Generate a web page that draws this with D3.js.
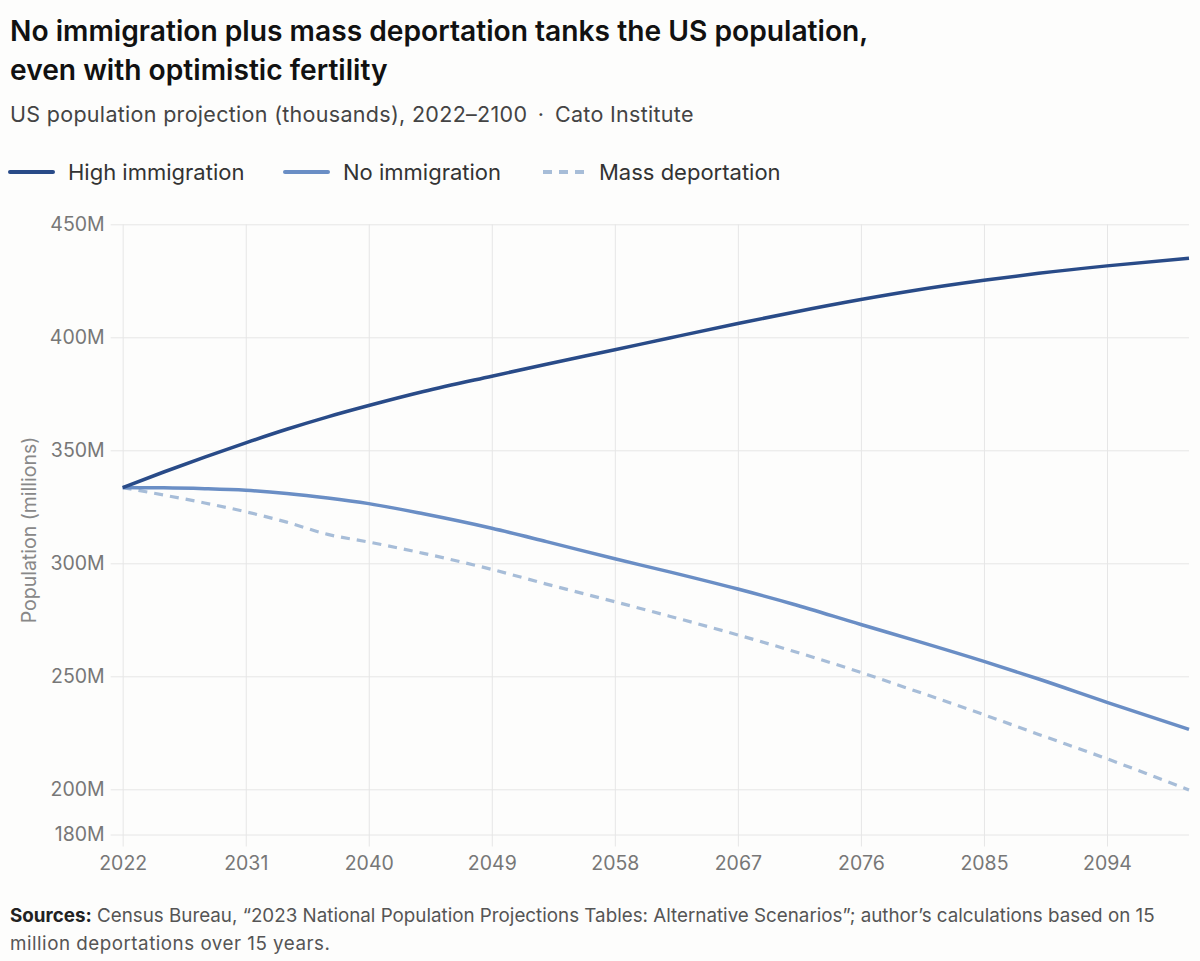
<!DOCTYPE html>
<html>
<head>
<meta charset="utf-8">
<script src="https://cdn.jsdelivr.net/npm/d3@7"></script>
<style>
  html, body { margin: 0; padding: 0; background: #fdfdfc; }
  svg { display: block; }
  text { font-family: Inter, "Noto Sans", sans-serif; }
</style>
</head>
<body>
<svg id="chart" width="1200" height="961"></svg>
<script>
// ---- Data (millions) ----
const years = [2022, 2025, 2028, 2031, 2034, 2037, 2040, 2044, 2049, 2053, 2058, 2062, 2067, 2071, 2076, 2080, 2085, 2089, 2094, 2100];
const highImmigration = [333.5, 340.4, 347.0, 353.3, 359.3, 364.8, 369.8, 376.0, 382.8, 388.1, 394.5, 399.7, 406.1, 411.0, 416.7, 420.8, 425.2, 428.3, 431.6, 435.0];
const noImmigration   = [333.5, 333.4, 333.0, 332.3, 330.9, 328.9, 326.4, 321.9, 315.5, 309.6, 302.0, 296.2, 288.6, 282.0, 272.9, 265.8, 256.6, 248.8, 238.5, 226.5];
const massDeportation = [333.5, 330.2, 326.7, 322.8, 318.2, 312.8, 309.4, 304.4, 297.3, 290.8, 283.0, 276.6, 268.3, 261.2, 251.7, 243.5, 233.0, 224.3, 213.5, 199.7];
const seriesNames = ["High immigration", "No immigration", "Mass deportation"];
const xTicks = [2022, 2031, 2040, 2049, 2058, 2067, 2076, 2085, 2094];
const yTicks = [180, 200, 250, 300, 350, 400, 450];
const titleLines = ["No immigration plus mass deportation tanks the US population,", "even with optimistic fertility"];
const subtitle = "US population projection (thousands), 2022\u20132100 \u2009\u00b7\u2009 Cato Institute";
const yLabel = "Population (millions)";
const sourceBold = "Sources:";
const sourceLines = [" Census Bureau, \u201c2023 National Population Projections Tables: Alternative Scenarios\u201d; author\u2019s calculations based on 15", "million deportations over 15 years."];

// ---- Layout ----
const svg = d3.select("#chart");
const mLeft = 122.7, mRight = 1189, mTop = 224.3, mBottom = 834.5;
const colors = ["#294b88", "#6a8ec5", "#a7bdd8"];
const widths = [3.5, 3.5, 3.2];
const dashes = [null, null, "9,7"];

const x = d3.scaleLinear().domain([2022, 2100]).range([mLeft, mRight]);
const y = d3.scaleLinear().domain([180, 450]).range([mBottom, mTop]);

// Title
svg.append("g").selectAll("text").data(titleLines).join("text")
  .attr("x", 10).attr("y", (d, i) => 41 + i * 39)
  .attr("font-size", 28.2).attr("font-weight", 600).attr("fill", "#111")
  .text(d => d);

svg.append("text").attr("x", 10).attr("y", 122)
  .attr("font-size", 21.5).attr("letter-spacing", 0.3).attr("fill", "#444").text(subtitle);

// Legend
const legendX = [10, 285, 543];
const lg = svg.append("g").selectAll("g").data(seriesNames).join("g")
  .attr("transform", (d, i) => `translate(${legendX[i]},172)`);
lg.append("line").attr("x1", 0).attr("x2", (d, i) => i === 2 ? 41 : 43).attr("y1", 0).attr("y2", 0)
  .attr("stroke", (d, i) => colors[i]).attr("stroke-width", 4)
  .attr("stroke-dasharray", (d, i) => i === 2 ? "9,7" : null)
  .attr("stroke-linecap", (d, i) => i === 2 ? "butt" : "round");
lg.append("text").attr("x", (d, i) => i === 2 ? 56 : 58).attr("y", 7.5)
  .attr("font-size", 22).attr("fill", "#333").text(d => d);

// Y axis + grid
const yAxis = d3.axisLeft(y).tickValues(yTicks).tickFormat(d => d + "M")
  .tickSize(-(mRight - (mLeft - 12))).tickPadding(6);
const gy = svg.append("g").attr("transform", `translate(${mLeft - 12},0)`).call(yAxis);
gy.select(".domain").remove();
gy.selectAll(".tick line").attr("stroke", "#e6e6e6").attr("stroke-width", 1);
gy.selectAll(".tick text").attr("font-size", 19.5).attr("fill", "#777").attr("font-family", "Inter, sans-serif");

// X axis + grid
const xAxis = d3.axisBottom(x).tickValues(xTicks).tickFormat(d3.format("d"))
  .tickSize(-((mBottom + 12) - mTop)).tickPadding(10);
const gx = svg.append("g").attr("transform", `translate(0,${mBottom + 12})`).call(xAxis);
gx.select(".domain").remove();
gx.selectAll(".tick line").attr("stroke", "#e6e6e6").attr("stroke-width", 1);
gx.selectAll(".tick text").attr("font-size", 19.5).attr("fill", "#777").attr("font-family", "Inter, sans-serif");

// Y label
svg.append("text").attr("transform", `translate(36,530) rotate(-90)`)
  .attr("text-anchor", "middle").attr("font-size", 19.5).attr("fill", "#888").text(yLabel);

// Lines
const allSeries = [highImmigration, noImmigration, massDeportation];
const line = d3.line().x(d => x(d[0])).y(d => y(d[1])).curve(d3.curveMonotoneX);
svg.append("g").selectAll("path").data(allSeries.slice().reverse()).join("path")
  .attr("d", vals => line(years.map((yr, j) => [yr, vals[j]])))
  .attr("fill", "none")
  .attr("stroke", (d, i) => colors[2 - i])
  .attr("stroke-width", (d, i) => widths[2 - i])
  .attr("stroke-dasharray", (d, i) => dashes[2 - i])
  .attr("stroke-linejoin", "round");

// Sources
const src = svg.append("g");
const t1 = src.append("text").attr("x", 10).attr("y", 922).attr("font-size", 18.8).attr("fill", "#555");
t1.append("tspan").attr("font-weight", 700).attr("fill", "#222").text(sourceBold);
t1.append("tspan").text(sourceLines[0]);
src.append("text").attr("x", 10).attr("y", 950).attr("font-size", 18.8).attr("letter-spacing", 0.5).attr("fill", "#555").text(sourceLines[1]);
</script>
</body>
</html>
